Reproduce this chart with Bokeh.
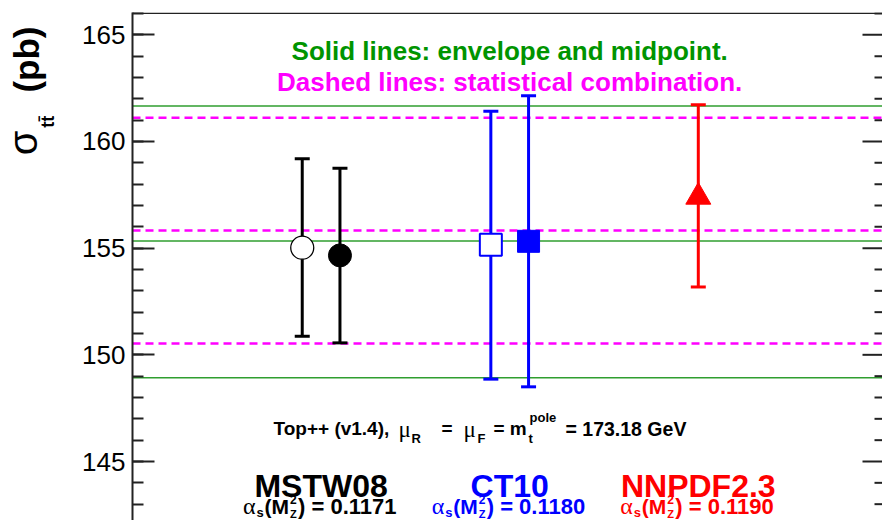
import math
from bokeh.plotting import figure
from bokeh.layouts import row
from bokeh.models import ColumnDataSource, Range1d, FixedTicker, Span, Label
from bokeh.embed import file_html
from bokeh.resources import INLINE

# ---------------- data ----------------
pdf_names = ["MSTW08", "CT10", "NNPDF2.3"]
pdf_centers = [2.5, 5.0, 7.5]
pdf_alphas = ["0.1171", "0.1180", "0.1190"]
pdf_colors = ["#000000", "#0000ff", "#ff0000"]

pt_x = [2.25, 2.75, 4.75, 5.25, 7.5]
pt_val = [155.02, 154.66, 155.16, 155.32, 157.40]
pt_hi = [159.19, 158.75, 161.42, 162.14, 161.72]
pt_lo = [150.87, 150.56, 148.86, 148.50, 153.18]
pt_marker = ["circle", "circle", "square", "square", "triangle"]
pt_color = ["#000000", "#000000", "#0000ff", "#0000ff", "#ff0000"]
pt_fill = ["#ffffff", "#000000", "#ffffff", "#0000ff", "#ff0000"]

envelope_lines = [161.66, 155.33, 148.92]
statcomb_lines = [161.11, 155.83, 150.53]

y_major = [145, 150, 155, 160, 165]
y_minor = list(range(140, 168))

# ---------------- layout constants (canvas pixels) ----------------
TOTAL_W, H = 882, 520
TITLE_W = 66
W = TOTAL_W - TITLE_W
X0_PX, XSCALE = 132.0, 75.44
Y165_PX, YSCALE = 34.3, 21.335
TOP_PX, BOT_PX, RIGHT_PX = 12.0, 520.0, 882.0

y_top = 165 + (Y165_PX - TOP_PX) / YSCALE
y_bot = 165 - (BOT_PX - Y165_PX) / YSCALE
x_end = (RIGHT_PX - X0_PX) / XSCALE

GREEN_LINE = "#2f9e2f"
GREEN_TEXT = "#009400"
MAGENTA = "#ff00ff"
AXIS = "#222222"
FONT = "Liberation Sans"
SERIF = "Liberation Serif"

p = figure(width=W, height=H, x_range=Range1d(0, x_end), y_range=Range1d(y_bot, y_top),
           x_axis_type=None, output_backend="svg", toolbar_location=None,
           min_border_left=int(X0_PX - TITLE_W), min_border_top=int(TOP_PX),
           min_border_bottom=0, min_border_right=0)
p.ygrid.visible = False
p.outline_line_color = None
p.background_fill_color = "white"
p.border_fill_color = "white"

ax = p.yaxis[0]
ax.ticker = FixedTicker(ticks=y_major, minor_ticks=y_minor)
ax.major_tick_in = 22
ax.major_tick_out = 0
ax.minor_tick_in = 11
ax.minor_tick_out = 0
ax.axis_line_width = 2
ax.axis_line_color = AXIS
ax.major_tick_line_width = 2
ax.minor_tick_line_width = 2
ax.major_tick_line_color = AXIS
ax.minor_tick_line_color = AXIS
ax.major_label_text_font = FONT
ax.major_label_text_font_size = "26px"
ax.major_label_text_color = "#000000"
ax.major_label_standoff = 7

# top frame border
p.add_layout(Span(location=y_top - 0.8 / YSCALE, dimension="width", line_color=AXIS, line_width=1.5))

# right-hand inward ticks (mirror of the left axis)
maj_len = 20 / XSCALE
min_len = 8 / XSCALE
minor_only = [t for t in y_minor if t not in y_major and y_bot <= t <= y_top]
p.segment(x0=[x_end - maj_len] * len(y_major), y0=y_major, x1=[x_end] * len(y_major), y1=y_major,
          line_color=AXIS, line_width=2)
p.segment(x0=[x_end - min_len] * len(minor_only), y0=minor_only, x1=[x_end] * len(minor_only),
          y1=minor_only, line_color=AXIS, line_width=2)

# reference lines
for v in envelope_lines:
    p.add_layout(Span(location=v, dimension="width", line_color=GREEN_LINE,
                      line_width=1.5, level="underlay"))
for v in statcomb_lines:
    p.add_layout(Span(location=v, dimension="width", line_color=MAGENTA,
                      line_width=2.5, line_dash="8 5", level="underlay"))

# points with error bars
size_of = {"circle": 23, "square": 22, "triangle": 25}
src = ColumnDataSource(dict(
    x=pt_x, y=pt_val, hi=pt_hi, lo=pt_lo, marker=pt_marker, color=pt_color, fill=pt_fill,
    size=[size_of[m] for m in pt_marker],
    lw=[(1.3 if m == "circle" else 2.0) if f == "#ffffff" else 1.0 for m, f in zip(pt_marker, pt_fill)],
))
p.segment(x0="x", y0="lo", x1="x", y1="hi", line_color="color", line_width=3, source=src)
p.scatter(x="x", y="hi", marker="dash", size=15, line_color="color", line_width=3, source=src)
p.scatter(x="x", y="lo", marker="dash", size=15, line_color="color", line_width=3, source=src)
p.scatter(x="x", y="y", marker="marker", size="size", fill_color="fill", line_color="color",
          line_width="lw", source=src)


# ---------------- texts ----------------
def px2x(px):
    return (px - X0_PX) / XSCALE


def py2y(py):
    return 165 - (py - Y165_PX) / YSCALE


def add_text(text, px, py, size, color="#000000", bold=True, font=FONT, align="left"):
    p.add_layout(Label(x=px2x(px), y=py2y(py), text=text, text_font=font,
                       text_font_size=f"{size}px",
                       text_font_style="bold" if bold else "normal",
                       text_color=color, text_align=align, text_baseline="alphabetic"))


# captions, centred on the middle group
mid_px = X0_PX + pdf_centers[1] * XSCALE
add_text("Solid lines: envelope and midpoint.", mid_px, 50.7, 26, GREEN_TEXT, align="center")
add_text("Dashed lines: statistical combination.", mid_px, 81.7, 26, MAGENTA, align="center")

# Top++ caption
add_text("Top++ (v1.4),", 273, 428, 19)
add_text("\u03bc", 398, 429, 23, bold=False, font=SERIF)
add_text("R", 411, 438, 13)
add_text("=", 441, 428, 19)
add_text("\u03bc", 463, 429, 23, bold=False, font=SERIF)
add_text("F", 477, 438, 13)
add_text("= m", 493, 428, 19)
add_text("t", 528, 438, 13)
add_text("pole", 529, 417, 13)
add_text("= 173.18 GeV", 565, 428, 19.5)

# PDF group labels
for name, cx, a, col in zip(pdf_names, pdf_centers, pdf_alphas, pdf_colors):
    cpx = X0_PX + cx * XSCALE
    add_text(name, cpx, 485, 32, col, align="center")
    add_text("\u03b1", cpx - 78.0, 505, 24, col, bold=False, font=SERIF)
    add_text("s", cpx - 64.5, 511.5, 13, col)
    add_text("(M", cpx - 56.5, 505.5, 21, col)
    add_text("2", cpx - 31.0, 499, 12, col)
    add_text("Z", cpx - 31.0, 513, 11, col)
    add_text(") = " + a, cpx - 23.0, 505.5, 22, col)

# ---------------- y-axis title strip (its own narrow canvas, pixel coordinates) ----------------
tfig = figure(width=TITLE_W, height=H, x_range=Range1d(0, TITLE_W), y_range=Range1d(H, 0),
              x_axis_type=None, y_axis_type=None, output_backend="svg", toolbar_location=None,
              min_border_left=0, min_border_right=0, min_border_top=0, min_border_bottom=0)
tfig.outline_line_color = None
tfig.background_fill_color = "white"
tfig.border_fill_color = "white"
tfig.grid.visible = False


def add_vtext(text, px, py, size, bold=True, font=FONT):
    tfig.add_layout(Label(x=px, y=py, text=text, text_font=font, text_font_size=f"{size}px",
                          text_font_style="bold" if bold else "normal", text_color="#000000",
                          text_align="left", text_baseline="alphabetic", angle=math.pi / 2))


add_vtext("\u03c3", 22, 146, 40, bold=False)
add_vtext("tt\u0304", 47, 118, 18)
add_vtext("(pb)", 26, 82, 35)

layout = row(tfig, p, spacing=0)
open("out.html", "w").write(file_html(layout, INLINE))
